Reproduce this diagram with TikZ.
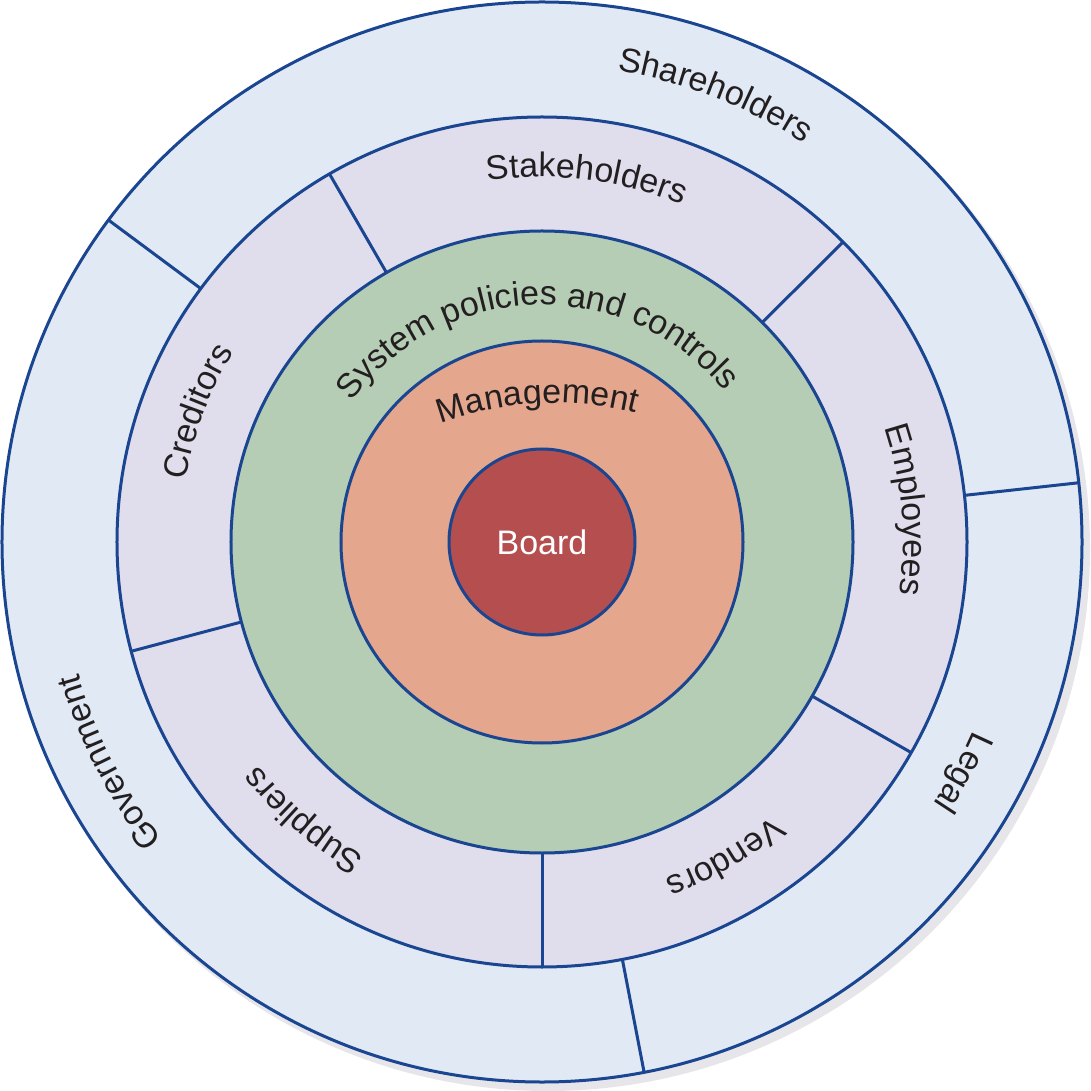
\documentclass[tikz,border=0pt]{standalone}
\usepackage{fontspec}
\setmainfont{Liberation Sans}
\usetikzlibrary{decorations.text}
\definecolor{outerc}{HTML}{E1E9F4}
\definecolor{ringc}{HTML}{E0DDEC}
\definecolor{greenc}{HTML}{B5CCB5}
\definecolor{salmonc}{HTML}{E4A68D}
\definecolor{boardc}{HTML}{B54F4F}
\definecolor{linec}{HTML}{1A4590}
\definecolor{shadowc}{HTML}{E6E6EA}
\definecolor{txtc}{HTML}{231F20}
\newcommand\lblfont{\fontsize{17}{20}\selectfont\color{txtc}}
\newcommand\ringlabel[4]{\path[decorate,decoration={text along path,text align=center,text={|\lblfont|#4}}] (#1+#3:#2) arc[start angle=#1+#3,end angle=#1-#3,radius=#2];}
\begin{document}
\begin{tikzpicture}[x=0.5pt,y=0.5pt,
  ring/.style={draw=linec,line width=1.5pt},
  divider/.style={draw=linec,line width=1.5pt}]
\useasboundingbox (-542,-549) rectangle (549,542);
\fill[shadowc] (6,-7) circle[radius=542];
\coordinate (c) at (0,0);
\draw[ring,fill=outerc] (c) circle[radius=540];
\draw[ring,fill=ringc] (c) circle[radius=425];
\draw[ring,fill=greenc] (c) circle[radius=311];
\draw[ring,fill=salmonc] (c) circle[radius=201];
\node[ring,circle,fill=boardc,minimum size=93pt,inner sep=0pt,text=white,font=\fontsize{17}{20}\selectfont] (board) at (c) {Board};
\foreach \a in {143.4,6.3,-79.1} \draw[divider] (\a:425) -- (\a:540);
\foreach \a in {120,44.9,-29.7,-90,194.9} \draw[divider] (\a:311) -- (\a:425);
\ringlabel{68.8}{477}{40}{Shareholders}
\ringlabel{-28.7}{471}{40}{Legal}
\ringlabel{207}{482}{40}{Government}
\ringlabel{83}{365}{40}{Stakeholders}
\ringlabel{159.3}{362}{40}{Creditors}
\ringlabel{5.1}{361}{40}{Employees}
\ringlabel{-59.8}{358}{40}{Vendors}
\ringlabel{229.4}{361}{40}{Suppliers}
\ringlabel{91.5}{237}{80}{System policies and controls}
\path[decorate,decoration={text along path,text align=center,text={|\lblfont|Management}}] ([shift={(13,-192)}]123:331) arc[start angle=123,end angle=63,radius=331];
\end{tikzpicture}
\end{document}
